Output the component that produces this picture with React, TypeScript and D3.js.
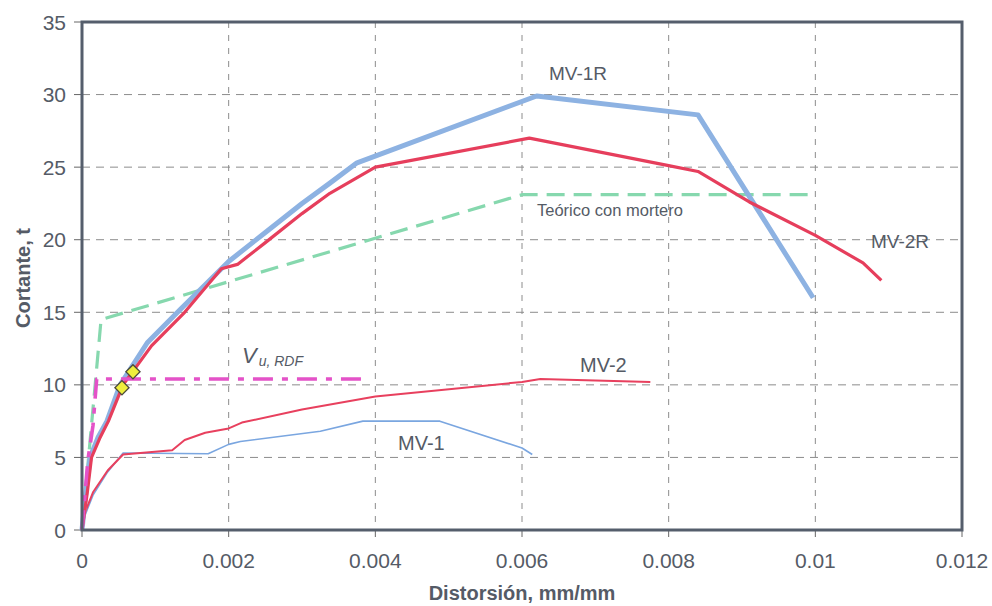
import React from 'react'
import * as d3 from 'd3'

// MV-1R (thick blue)
const mv1rX = [0, 0.00005, 0.00011, 0.00022, 0.00034, 0.00052, 0.00089, 0.00134, 0.002, 0.0025, 0.003, 0.00338, 0.00375, 0.0062, 0.0084, 0.00997]
const mv1rY = [0, 2.5, 5, 6.4, 7.5, 10, 12.9, 15.2, 18.5, 20.5, 22.5, 23.9, 25.3, 29.9, 28.6, 16.0]

// MV-2R (thick red)
const mv2rX = [0, 0.00007, 0.00013, 0.00024, 0.00036, 0.00056, 0.00095, 0.0014, 0.0019, 0.00212, 0.0025, 0.003, 0.00338, 0.004, 0.0061, 0.008, 0.0084, 0.0091, 0.01, 0.01065, 0.0109]
const mv2rY = [0, 2.5, 5, 6.3, 7.5, 10, 12.7, 15, 18.0, 18.3, 19.8, 21.8, 23.2, 25.0, 27.0, 25.1, 24.7, 22.6, 20.3, 18.4, 17.2]

// MV-2 (thin red)
const mv2X = [0, 0.00004, 0.00015, 0.00035, 0.00056, 0.00123, 0.0014, 0.00168, 0.002, 0.00218, 0.003, 0.004, 0.006, 0.00625, 0.007, 0.00775]
const mv2Y = [0, 1.2, 2.6, 4.1, 5.2, 5.5, 6.2, 6.7, 7.0, 7.4, 8.3, 9.2, 10.2, 10.4, 10.3, 10.2]

// MV-1 (thin blue)
const mv1X = [0, 0.00004, 0.00015, 0.00035, 0.00056, 0.00172, 0.002, 0.00216, 0.00325, 0.00383, 0.0044, 0.00488, 0.006, 0.00614]
const mv1Y = [0, 1.0, 2.4, 4.0, 5.3, 5.25, 5.9, 6.1, 6.8, 7.5, 7.5, 7.5, 5.65, 5.2]

// Teórico con mortero (green dashed)
const teoX = [0, 0.00026, 0.006, 0.01]
const teoY = [0, 14.5, 23.1, 23.1]

// Vu,RDF (magenta dash-dot)
const rdfX = [0, 0.00008, 0.00015, 0.0002, 0.0039]
const rdfY = [0, 4.8, 7.2, 10.4, 10.4]

// yellow markers
const markX = [0.000545, 0.000695]
const markY = [9.8, 10.9]

const xTicks = [0, 0.002, 0.004, 0.006, 0.008, 0.01, 0.012]
const yTicks = [0, 5, 10, 15, 20, 25, 30, 35]

const W = 992, H = 606
const left = 82, right = 962, top = 22, bottom = 530
const font = 'Arial, "Liberation Sans", sans-serif'
const txt = '#555b66'

export default function App() {
    const x = d3.scaleLinear().domain([0, 0.012]).range([left, right])
    const y = d3.scaleLinear().domain([0, 35]).range([bottom, top])

    const path = (xs: number[], ys: number[]) =>
        d3.line<number>().x((_, i) => x(xs[i])).y((d) => y(d))(ys) || ''

    const series = [
        { xs: teoX, ys: teoY, color: '#86d8ae', w: 3.2, dash: '18,9' },
        { xs: mv1X, ys: mv1Y, color: '#7aa6e0', w: 1.6, dash: null },
        { xs: mv2X, ys: mv2Y, color: '#e8405e', w: 2, dash: null },
        { xs: mv1rX, ys: mv1rY, color: '#8db2e2', w: 5, dash: null },
        { xs: mv2rX, ys: mv2rY, color: '#e63e5c', w: 3.2, dash: null },
        { xs: rdfX, ys: rdfY, color: '#e452c8', w: 3.6, dash: '20,9,6,9' },
    ]

    return (
        <svg width={W} height={H} style={{ position: 'absolute', left: 0, top: 0, background: '#fff' }}
            fontFamily={font}>
            {/* grid */}
            {yTicks.filter(t => t > 0 && t < 35).map(t => (
                <line key={'gy' + t} x1={left} x2={right} y1={y(t)} y2={y(t)}
                    stroke="#8c8c8c" strokeWidth={1} strokeDasharray="8,6" />
            ))}
            {xTicks.filter(t => t > 0 && t < 0.012).map(t => (
                <line key={'gx' + t} x1={x(t)} x2={x(t)} y1={top} y2={bottom}
                    stroke="#8c8c8c" strokeWidth={1} strokeDasharray="6,7" />
            ))}

            {/* ticks */}
            {yTicks.map(t => (
                <g key={'ty' + t}>
                    <line x1={left - 8} x2={left} y1={y(t)} y2={y(t)} stroke="#666" strokeWidth={1} />
                    <text x={66} y={y(t) + 7.5} textAnchor="end" fontSize={21} fill={txt}>{t}</text>
                </g>
            ))}
            {xTicks.map(t => (
                <g key={'tx' + t}>
                    <line x1={x(t)} x2={x(t)} y1={bottom} y2={bottom + 7} stroke="#666" strokeWidth={1} />
                    <text x={x(t)} y={568} textAnchor="middle" fontSize={21} fill={txt}>{d3.format('~g')(t)}</text>
                </g>
            ))}

            {/* series */}
            {series.map((s, i) => (
                <path key={i} d={path(s.xs, s.ys)} fill="none" stroke={s.color} strokeWidth={s.w}
                    strokeLinejoin="round" strokeDasharray={s.dash || undefined} />
            ))}

            {markX.map((mx, i) => (
                <rect key={'m' + i} x={x(mx) - 5} y={y(markY[i]) - 5} width={10} height={10}
                    transform={`rotate(45 ${x(mx)} ${y(markY[i])})`}
                    fill="#eeee3c" stroke="#4a4a3a" strokeWidth={1.3} />
            ))}

            {/* frame */}
            <rect x={left} y={top} width={right - left} height={bottom - top} fill="none" stroke="#555e6c" strokeWidth={3} />

            {/* labels */}
            <text x={549} y={80} fontSize={19} fill={txt}>MV-1R</text>
            <text x={871} y={248} fontSize={19} fill={txt}>MV-2R</text>
            <text x={580} y={372} fontSize={20} fill={txt}>MV-2</text>
            <text x={398} y={450} fontSize={20} fill={txt}>MV-1</text>
            <text x={537} y={216} fontSize={16.5} fill={txt}>Teórico con mortero</text>
            <text x={242} y={363} fill={txt} fontStyle="italic">
                <tspan fontSize={22}>V</tspan>
                <tspan fontSize={14} dy={3} dx={2}>u, RDF</tspan>
            </text>

            {/* axis titles */}
            <text x={522} y={600} textAnchor="middle" fontSize={20} fontWeight="bold" fill={txt}>Distorsión, mm/mm</text>
            <text transform="translate(30,278) rotate(-90)" textAnchor="middle" fontSize={20} fontWeight="bold" fill={txt}>Cortante, t</text>
        </svg>
    )
}
